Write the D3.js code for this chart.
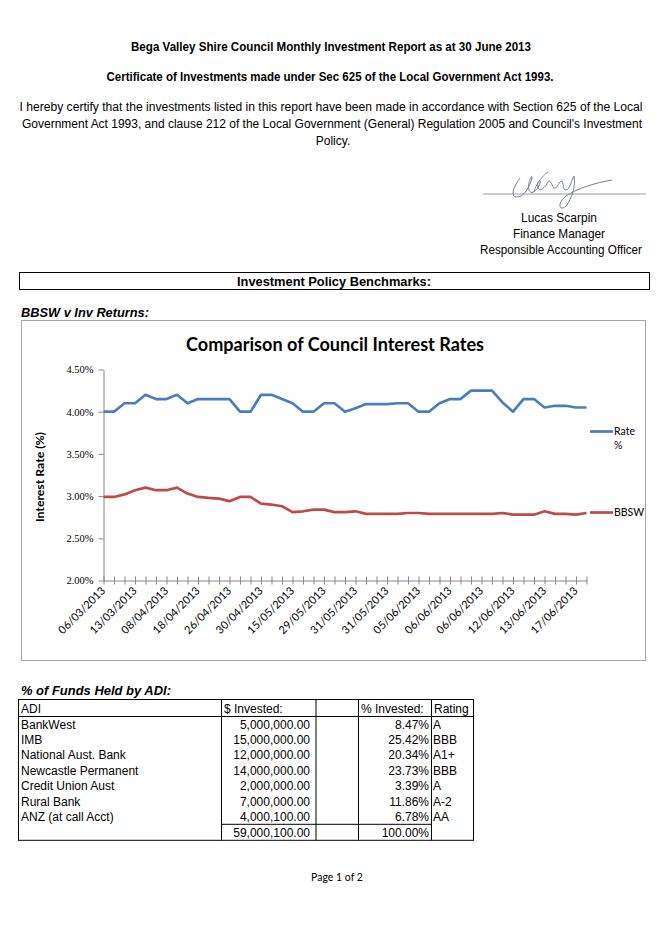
<!DOCTYPE html>
<html><head><meta charset="utf-8">
<script src="https://cdn.jsdelivr.net/npm/d3@7/dist/d3.min.js"></script>
<style>
html,body{margin:0;padding:0;background:#fff;}
svg{display:block;}
</style></head>
<body>
<svg id="page" width="662" height="936"></svg>
<script>
// ---------------- DATA ----------------
const tickLabels = ["06/03/2013","13/03/2013","08/04/2013","18/04/2013","26/04/2013","30/04/2013",
  "15/05/2013","29/05/2013","31/05/2013","31/05/2013","05/06/2013","06/06/2013","06/06/2013",
  "12/06/2013","13/06/2013","17/06/2013"];
const rateSeries = [4.00,4.00,4.10,4.10,4.20,4.15,4.15,4.20,4.10,4.15,4.15,4.15,4.15,4.00,4.00,4.20,
  4.20,4.15,4.10,4.00,4.00,4.10,4.10,4.00,4.04,4.09,4.09,4.09,4.10,4.10,4.00,4.00,4.10,4.15,4.15,
  4.25,4.25,4.25,4.11,4.00,4.15,4.15,4.05,4.07,4.07,4.05,4.05];
const bbswSeries = [2.99,2.99,3.02,3.07,3.10,3.07,3.07,3.10,3.03,2.99,2.98,2.97,2.94,2.99,2.99,2.91,
  2.90,2.88,2.81,2.82,2.84,2.84,2.81,2.81,2.82,2.79,2.79,2.79,2.79,2.80,2.80,2.79,2.79,2.79,2.79,
  2.79,2.79,2.79,2.80,2.78,2.78,2.78,2.82,2.79,2.79,2.78,2.80];
const yTicks = [2.00,2.50,3.00,3.50,4.00,4.50];
const seriesNames = ["Rate %","BBSW"];
const adiNames = ["BankWest","IMB","National Aust. Bank","Newcastle Permanent","Credit Union Aust","Rural Bank","ANZ (at call Acct)"];
const adiInvested = [5000000.00,15000000.00,12000000.00,14000000.00,2000000.00,7000000.00,4000100.00];
const adiPercent = [8.47,25.42,20.34,23.73,3.39,11.86,6.78];
const adiRating = ["A","BBB","A1+","BBB","A","A-2","AA"];
const totalInvested = 59000100.00;
const totalPercent = 100.00;

// ---------------- PAGE ----------------
const svg = d3.select("#page");
const SANS = "'Liberation Sans', Arial, sans-serif";
const CAL = "Lato, 'Open Sans', sans-serif";

function txt(x, y, s, opts = {}) {
  const t = svg.append("text").attr("x", x).attr("y", y).text(s)
    .attr("font-family", opts.family || SANS)
    .attr("font-size", opts.size || 11)
    .attr("fill", opts.fill || "#000")
    .attr("text-anchor", opts.anchor || "start");
  if (opts.weight) t.attr("font-weight", opts.weight);
  if (opts.style) t.attr("font-style", opts.style);
  if (opts.len) t.attr("textLength", opts.len).attr("lengthAdjust", "spacingAndGlyphs");
  return t;
}

txt(331, 51, "Bega Valley Shire Council Monthly Investment Report as at 30 June 2013", {anchor:"middle", weight:"bold", size:12, len:400});
txt(330, 81, "Certificate of Investments made under Sec 625 of the Local Government Act 1993.", {anchor:"middle", weight:"bold", size:12, len:447});
txt(331, 111, "I hereby certify that the investments listed in this report have been made in accordance with Section 625 of the Local", {anchor:"middle", size:12, len:623});
txt(332, 128, "Government Act 1993, and clause 212 of the Local Government (General) Regulation 2005 and Council's Investment", {anchor:"middle", size:12, len:620});
txt(333, 145, "Policy.", {anchor:"middle", size:12});

// signature
svg.append("line").attr("x1",483).attr("x2",646).attr("y1",194).attr("y2",194).attr("stroke","#9a9a9a").attr("stroke-width",1);
svg.append("path")
  .attr("d","M520,178 C514,186 510,196 516,197 C524,198 530,186 532,178 C533,173 527,182 529,190 C531,196 538,190 540,183 C542,178 536,182 538,188 C540,193 546,186 548,182 C550,178 552,186 554,188 C557,190 559,180 562,181 C564,183 562,190 566,190 C570,190 572,178 574,176 C576,186 572,198 566,206 C560,212 556,204 566,196 C578,188 595,183 612,180")
  .attr("fill","none").attr("stroke","#6b6f86").attr("stroke-width",0.9);
svg.append("path").attr("d","M548,172 C542,176 536,184 534,192").attr("fill","none").attr("stroke","#6b6f86").attr("stroke-width",0.8);

txt(559, 222, "Lucas Scarpin", {anchor:"middle", size:12, len:76});
txt(559, 238, "Finance Manager", {anchor:"middle", size:12, len:92});
txt(561, 254, "Responsible Accounting Officer", {anchor:"middle", size:12, len:162});

// benchmark box
svg.append("rect").attr("x",19.5).attr("y",272.5).attr("width",630).attr("height",17).attr("fill","none").attr("stroke","#000").attr("stroke-width",1);
txt(334, 285.5, "Investment Policy Benchmarks:", {anchor:"middle", weight:"bold", size:12, len:194});

txt(21, 317, "BBSW v Inv Returns:", {weight:"bold", style:"italic", size:12.5, len:128});

// ---------------- CHART ----------------
svg.append("rect").attr("x",21.5).attr("y",320.5).attr("width",624).attr("height",340)
  .attr("fill","#fff").attr("stroke","#a6a6a6").attr("stroke-width",1);

const chartTitle = "Comparison of Council Interest Rates";
txt(335, 351, chartTitle, {anchor:"middle", weight:"bold", size:18, family:CAL, len:298});

const x = d3.scalePoint().domain(d3.range(rateSeries.length)).range([103.5, 586.5]);
const y = d3.scaleLinear().domain([2.0, 4.5]).range([580.5, 369.5]);

const g = svg.append("g");

// y axis
const yAxis = d3.axisLeft(y).tickValues(yTicks).tickSize(5).tickSizeOuter(0)
  .tickFormat(d => d3.format(".2f")(d) + "%");
const yg = g.append("g").attr("transform","translate(103.5,0)").call(yAxis);
yg.select(".domain").attr("stroke","#868686");
yg.selectAll(".tick line").attr("stroke","#868686");
yg.selectAll(".tick text").attr("font-family","'Liberation Serif','DejaVu Serif',serif").attr("font-size",10.5).attr("fill","#000").attr("x",-10);

// x axis
const xAxis = d3.axisBottom(x).tickSize(4).tickSizeOuter(0)
  .tickFormat(i => i % 3 === 0 ? tickLabels[i / 3] : "");
const xg = g.append("g").attr("transform","translate(0,580.5)").call(xAxis);
xg.select(".domain").attr("stroke","#868686");
xg.selectAll(".tick line").attr("stroke","#868686").attr("y1",-4).attr("y2",4);
xg.selectAll(".tick text")
  .attr("font-family",CAL).attr("font-size",11).attr("fill","#000")
  .attr("text-anchor","end").attr("y",0).attr("dy",0)
  .attr("transform","translate(2,11) rotate(-45)");

// y axis title
svg.append("text").attr("transform","translate(44,477) rotate(-90)")
  .attr("text-anchor","middle").attr("font-family",CAL).attr("font-weight","bold").attr("font-size",11.5)
  .attr("textLength",90).attr("lengthAdjust","spacingAndGlyphs")
  .text("Interest Rate (%)");

// lines
const line = d3.line().x((d,i) => x(i)).y(d => y(d));
const colors = ["#4A7EBB","#BE4B48"];
[rateSeries, bbswSeries].forEach((s, k) => {
  g.append("path").datum(s).attr("d", line).attr("fill","none")
    .attr("stroke", colors[k]).attr("stroke-width",2.7).attr("stroke-linejoin","round");
});

// legend
svg.append("line").attr("x1",590).attr("x2",613).attr("y1",431.5).attr("y2",431.5).attr("stroke",colors[0]).attr("stroke-width",2.7);
txt(614, 435, "Rate", {family:CAL, size:10.5});
txt(614, 449, "%", {family:CAL, size:10.5});
svg.append("line").attr("x1",590).attr("x2",613).attr("y1",512.5).attr("y2",512.5).attr("stroke",colors[1]).attr("stroke-width",2.7);
txt(614, 516, seriesNames[1], {family:CAL, size:10.5});

// ---------------- TABLE ----------------
txt(21, 695, "% of Funds Held by ADI:", {weight:"bold", style:"italic", size:12.5, len:150});

const cols = [18.5, 221.5, 316, 358.5, 431.5, 473.5];
const tTop = 699.5, headerBottom = 716.5, rowH = 15.4;
const totalTop = headerBottom + rowH * adiNames.length;
const tBottom = totalTop + 16;
const T = svg.append("g");
const L = (x1,y1,x2,y2,w=1) => T.append("line").attr("x1",x1).attr("y1",y1).attr("x2",x2).attr("y2",y2).attr("stroke","#000").attr("stroke-width",w);

// outer
T.append("rect").attr("x",cols[0]).attr("y",tTop).attr("width",cols[5]-cols[0]).attr("height",tBottom-tTop).attr("fill","none").attr("stroke","#000").attr("stroke-width",1);
L(cols[0], headerBottom, cols[5], headerBottom);
cols.slice(1,5).forEach(c => L(c, tTop, c, tBottom));
L(cols[1], totalTop, cols[4], totalTop);

const TS = 12;
const hy = tTop + 13;
txt(21, hy, "ADI", {size:TS});
txt(224, hy, "$ Invested:", {size:TS});
txt(361, hy, "% Invested:", {size:TS});
txt(434, hy, "Rating", {size:TS});

const money = d3.format(",.2f");
adiNames.forEach((n, i) => {
  const yy = headerBottom + rowH * i + 12;
  txt(21, yy, n, {size:TS});
  txt(310, yy, money(adiInvested[i]), {size:TS, anchor:"end"});
  txt(429, yy, adiPercent[i].toFixed(2) + "%", {size:TS, anchor:"end"});
  txt(433, yy, adiRating[i], {size:TS});
});
txt(310, totalTop + 12.5, money(totalInvested), {size:TS, anchor:"end"});
txt(429, totalTop + 12.5, totalPercent.toFixed(2) + "%", {size:TS, anchor:"end"});

txt(337, 881, "Page 1 of 2", {anchor:"middle", size:10.5, family:CAL});
</script>
</body></html>
